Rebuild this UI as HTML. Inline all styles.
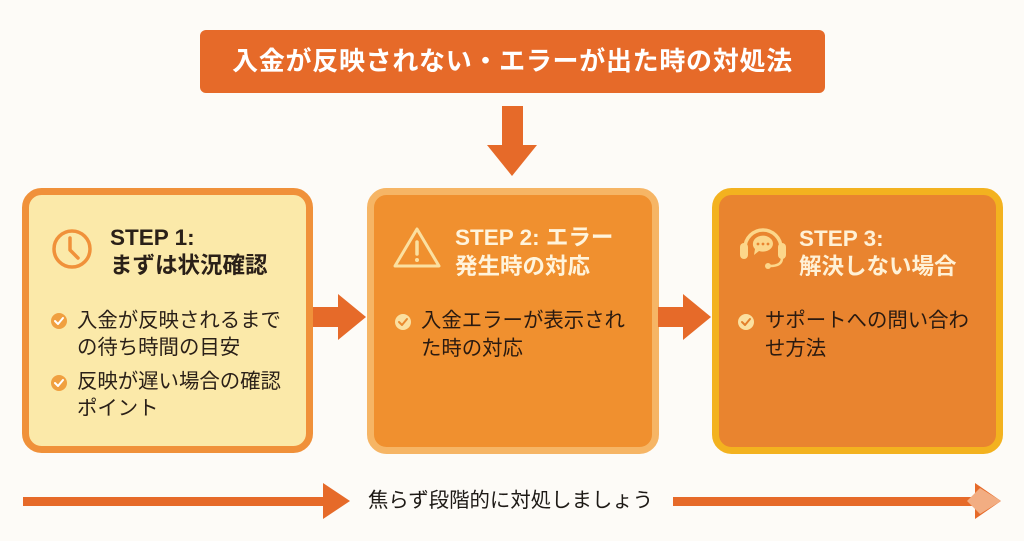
<!DOCTYPE html>
<html><head><meta charset="utf-8">
<style>
html,body{margin:0;padding:0;}
body{width:1024px;height:541px;background:#fdfbf7;position:relative;overflow:hidden;font-family:"Liberation Sans","Noto Sans CJK JP",sans-serif;}
.t{position:absolute;white-space:nowrap;}
.title{left:200px;top:30px;width:625px;height:63px;background:#e66a29;border-radius:6px;color:#fff;font-weight:bold;font-size:26px;line-height:63px;text-align:center;letter-spacing:0.7px;}
.h{font-weight:bold;font-size:22.5px;line-height:27px;}
.b{font-size:20.4px;line-height:27px;}
</style></head>
<body>
<svg width="1024" height="541" style="position:absolute;left:0;top:0">
  <rect x="502" y="106" width="21" height="40" fill="#e66a29"/>
  <polygon points="487,145 537,145 512,176" fill="#e66a29"/>
  <rect x="25.5" y="191.5" width="284" height="258" rx="16" fill="#fbe9a9" stroke="#f0913a" stroke-width="7"/>
  <rect x="370.5" y="191.5" width="285" height="259" rx="16" fill="#f0902f" stroke="#f6b565" stroke-width="7"/>
  <rect x="715.5" y="191.5" width="284" height="259" rx="16" fill="#e9842f" stroke="#f3b21f" stroke-width="7"/>
  <rect x="313" y="307" width="27" height="20" fill="#e66a29"/>
  <polygon points="338,294 366,317 338,340" fill="#e66a29"/>
  <rect x="658" y="307" width="27" height="20" fill="#e66a29"/>
  <polygon points="683,294 711,317 683,340" fill="#e66a29"/>
  <rect x="23" y="497" width="302" height="9" fill="#e66a29"/>
  <polygon points="323,483 350,501 323,519" fill="#e66a29"/>
  <rect x="673" y="497" width="305" height="9" fill="#e66a29"/>
  <polygon points="975,483 1001,501 975,519" fill="#e66a29"/>
  <polygon points="967,501 980,488 1001,501 980,514" fill="#f2ad82"/>
  <circle cx="72" cy="249" r="18" fill="none" stroke="#f0913a" stroke-width="3.5"/>
  <polyline points="70,238 70,250 78,258" fill="none" stroke="#f0913a" stroke-width="3.5" stroke-linecap="round" stroke-linejoin="round"/>
  <path d="M417,229 L439,266 L395,266 Z" fill="none" stroke="#fbe0a0" stroke-width="3" stroke-linejoin="round"/>
  <line x1="417" y1="242" x2="417" y2="254" stroke="#fbe0a0" stroke-width="3.5" stroke-linecap="round"/>
  <circle cx="417" cy="260" r="2" fill="#fbe0a0"/>
  <path d="M745,248 A18,18 0 0 1 781,248" fill="none" stroke="#fcd68a" stroke-width="3.5"/>
  <rect x="740" y="243" width="8" height="16" rx="4" fill="#fcd68a"/>
  <rect x="778" y="243" width="8" height="16" rx="4" fill="#fcd68a"/>
  <path d="M782,258 Q782,266 770,266" fill="none" stroke="#fcd68a" stroke-width="2.5"/>
  <circle cx="768" cy="266" r="3" fill="#fcd68a"/>
  <path d="M753,243 a10,8 0 1 1 6,8 l-5,4 l1,-6 a10,8 0 0 1 -2,-6z" fill="#fcd68a"/>
  <circle cx="758" cy="244" r="1.4" fill="#e9842f"/>
  <circle cx="763" cy="244" r="1.4" fill="#e9842f"/>
  <circle cx="768" cy="244" r="1.4" fill="#e9842f"/>
  <circle cx="59" cy="321" r="8" fill="#f0a040"/>
  <polyline points="55,321 58,324 63,318" fill="none" stroke="#fff" stroke-width="2" stroke-linecap="round" stroke-linejoin="round"/>
  <circle cx="59" cy="383" r="8" fill="#f0a040"/>
  <polyline points="55,383 58,386 63,380" fill="none" stroke="#fff" stroke-width="2" stroke-linecap="round" stroke-linejoin="round"/>
  <circle cx="403" cy="322" r="8" fill="#fbe0a0"/>
  <polyline points="399,322 402,325 407,319" fill="none" stroke="#e98a30" stroke-width="2" stroke-linecap="round" stroke-linejoin="round"/>
  <circle cx="746" cy="322" r="8" fill="#fbe0a0"/>
  <polyline points="742,322 745,325 750,319" fill="none" stroke="#e3802c" stroke-width="2" stroke-linecap="round" stroke-linejoin="round"/>
</svg>

<div class="t title">入金が反映されない・エラーが出た時の対処法</div>

<div class="t h" style="left:110px;top:224px;color:#2a2018;">STEP 1:</div>
<div class="t h" style="left:110px;top:252px;color:#2a2018;">まずは状況確認</div>
<div class="t b" style="left:77px;top:308px;color:#2a2018;">入金が反映されるまで</div>
<div class="t b" style="left:77px;top:335px;color:#2a2018;">の待ち時間の目安</div>
<div class="t b" style="left:77px;top:369px;color:#2a2018;">反映が遅い場合の確認</div>
<div class="t b" style="left:77px;top:396px;color:#2a2018;">ポイント</div>

<div class="t h" style="left:455px;top:224px;color:#fff4dc;">STEP 2: エラー</div>
<div class="t h" style="left:455px;top:253px;color:#fff4dc;">発生時の対応</div>
<div class="t b" style="left:421px;top:308px;color:#2a1a10;">入金エラーが表示され</div>
<div class="t b" style="left:421px;top:336px;color:#2a1a10;">た時の対応</div>

<div class="t h" style="left:799px;top:225px;color:#fff1d6;">STEP 3:</div>
<div class="t h" style="left:799px;top:253px;color:#fff1d6;">解決しない場合</div>
<div class="t b" style="left:765px;top:308px;color:#2a1a10;">サポートへの問い合わ</div>
<div class="t b" style="left:765px;top:336px;color:#2a1a10;">せ方法</div>

<div class="t" style="left:368px;top:488px;font-size:20.4px;line-height:27px;color:#1e1a16;">焦らず段階的に対処しましょう</div>
</body></html>
